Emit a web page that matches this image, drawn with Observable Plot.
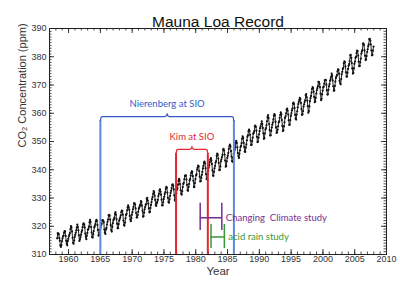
<!DOCTYPE html>
<html><head><meta charset="utf-8">
<script src="https://cdn.jsdelivr.net/npm/d3@7"></script>
<script src="https://cdn.jsdelivr.net/npm/@observablehq/plot@0.6"></script>
<style>body{margin:0;background:#fff}</style>
</head><body><div id="chart"></div>
<script>
// Monthly CO2 (ppm), Mauna Loa, starting March 1958
const startYear = 1958, startMonth = 3;
const co2 = [
315.71,317.45,317.50,317.10,315.86,314.93,313.20,312.66,313.33,314.67,
315.62,316.38,316.71,317.72,318.29,318.15,316.54,314.80,313.84,313.26,314.80,315.58,
316.43,316.97,317.58,319.02,320.03,319.59,318.18,315.91,314.16,313.83,315.00,316.19,
316.93,317.70,318.54,319.48,320.58,319.77,318.57,316.79,314.80,315.38,316.10,317.01,
317.94,318.56,319.68,320.63,321.01,320.55,319.58,317.40,316.26,315.42,316.69,317.69,
318.74,319.08,319.86,321.39,322.25,321.47,319.74,317.77,316.21,315.99,317.12,318.31,
319.57,320.07,320.73,321.77,322.25,321.89,320.44,318.70,316.70,316.79,317.79,318.71,
319.44,320.44,320.89,322.13,322.16,321.87,321.39,318.81,317.81,317.30,318.87,319.42,
320.62,321.59,322.39,323.87,324.01,323.75,322.39,320.37,318.64,318.10,319.79,321.08,
322.07,322.50,323.04,324.42,325.00,324.09,322.55,320.92,319.31,319.31,320.72,321.96,
322.57,323.15,323.89,325.02,325.57,325.36,324.14,322.03,320.41,320.25,321.31,322.84,
324.00,324.42,325.64,326.66,327.38,326.70,325.89,323.67,322.38,321.78,322.85,324.11,
325.03,325.99,326.87,328.13,328.07,327.66,326.35,324.69,323.10,323.16,323.98,325.13,
326.17,326.68,327.18,327.78,328.92,328.57,327.34,325.46,323.36,323.57,324.80,326.01,
326.77,327.63,327.75,329.72,330.07,329.09,328.05,326.32,324.93,325.06,326.50,327.55,
328.54,329.56,330.30,331.50,332.48,332.07,330.87,329.31,327.51,327.18,328.16,328.64,
329.35,330.71,331.48,332.65,333.09,332.25,331.18,329.40,327.43,327.37,328.46,329.57,
330.40,331.40,332.04,333.31,333.96,333.59,331.91,330.06,328.56,328.34,329.49,330.76,
331.75,332.56,333.50,334.58,334.87,334.34,333.05,330.94,329.30,328.94,330.31,331.68,
332.93,333.42,334.70,336.07,336.74,336.27,334.93,332.75,331.58,331.16,332.40,333.85,
334.97,335.39,336.64,337.76,338.01,337.89,336.54,334.68,332.76,332.54,333.92,334.95,
336.23,336.76,337.96,338.89,339.47,339.29,337.73,336.09,333.91,333.86,335.29,336.73,
338.01,338.36,340.08,340.77,341.46,341.17,339.56,337.60,335.88,336.01,337.10,338.21,
339.24,340.48,341.38,342.51,342.91,342.25,340.49,338.43,336.69,336.85,338.36,339.61,
340.75,341.61,342.70,343.56,344.13,343.35,342.06,339.82,337.97,337.86,339.26,340.49,
341.38,342.52,343.10,344.94,345.75,345.32,343.99,342.39,339.86,339.99,341.16,342.99,
343.70,344.51,345.28,347.08,347.43,346.79,345.40,343.28,341.07,341.35,342.98,344.22,
344.97,345.99,347.42,348.35,348.93,348.25,346.56,344.69,343.09,342.80,344.24,345.56,
346.29,346.96,347.86,349.55,350.21,349.54,347.94,345.91,344.86,344.17,345.66,346.90,
348.02,348.47,349.42,350.99,351.84,351.25,349.52,348.10,346.44,346.36,347.81,348.96,
350.43,351.72,352.22,353.59,354.22,353.79,352.39,350.44,348.72,348.88,350.07,351.34,
352.76,353.07,353.68,355.42,355.67,355.13,353.90,351.67,349.80,349.99,351.30,352.53,
353.66,354.70,355.39,356.20,357.16,356.22,354.82,352.91,350.96,351.18,352.83,354.21,
354.72,355.75,357.16,358.60,359.34,358.24,356.17,354.03,352.16,352.21,353.75,354.99,
355.98,356.72,357.81,359.15,359.66,359.25,357.02,355.00,353.01,353.31,354.16,355.40,
356.70,357.16,358.38,359.46,360.28,359.60,357.57,355.52,353.70,353.98,355.33,356.80,
358.36,358.91,359.97,361.26,361.68,360.95,359.55,357.49,355.84,356.00,357.58,359.04,
359.97,361.00,361.64,363.45,363.79,363.26,361.90,359.46,358.06,357.75,359.56,360.70,
362.05,363.25,364.03,364.72,365.41,364.97,363.65,361.49,359.46,359.60,360.76,362.33,
363.18,363.99,364.56,366.36,366.80,365.63,364.47,362.50,360.19,360.78,362.43,364.28,
365.33,366.15,367.31,368.61,369.29,368.87,367.64,365.77,363.90,364.23,365.46,366.97,
368.15,368.87,369.59,371.14,371.00,370.35,369.27,366.94,364.63,365.12,366.67,368.01,
369.14,369.46,370.52,371.66,371.82,371.70,370.12,368.12,366.62,366.73,368.29,369.53,
370.28,371.50,372.12,372.87,374.02,373.30,371.62,369.55,367.96,368.09,369.68,371.24,
372.44,373.08,373.52,374.85,375.55,375.40,374.02,371.49,370.71,370.25,372.08,373.78,
374.68,375.62,376.11,377.65,378.35,378.13,376.62,374.50,372.99,373.00,374.35,375.70,
376.79,377.37,378.41,380.52,380.63,379.57,377.79,375.86,374.06,374.24,375.86,377.48,
378.29,379.62,379.95,381.30,382.16,382.00,380.42,378.28,376.68,376.76,378.01,379.33,
381.14,381.84,382.31,384.64,384.68,384.15,382.24,380.38,378.81,379.08,380.23,381.69,
382.66,383.68,384.38,386.23,386.34,385.67,384.33,382.25,380.52,380.67,382.18,383.61
];

// Axes
const xDomain = [1957, 2010];
const yDomain = [310, 390];
const xTickLabels = [1960, 1965, 1970, 1975, 1980, 1985, 1990, 1995, 2000, 2005, 2010];
const yTickLabels = [310, 320, 330, 340, 350, 360, 370, 380, 390];
const xMinorTicks = d3.range(1958, 2010, 1);
const yMinorTicks = d3.range(311, 390, 1);

const title = "Mauna Loa Record";
const xLabel = "Year";
const yLabel = "CO\u2082 Concentration (ppm)";

// Tenure brackets
const braceLabels = ["Nierenberg at SIO", "Kim at SIO"];
const braceStart = [1965.0, 1976.9];
const braceEnd = [1986.0, 1981.9];
const braceLevel = [358.8, 347.2];
const braceStroke = ["#3559c9", "#e3262d"];
const braceRule = ["#5f88dc", "#e3262d"];

// Study intervals
const studyLabels = ["Changing  Climate study", "acid rain study"];
const studyStart = [1980.7, 1982.4];
const studyEnd = [1984.1, 1984.5];
const studyLevel = [323.0, 316.2];
const studyCapLow = [318.5, 312.1];
const studyCapHigh = [328.1, 320.6];
const studyColor = ["#742f91", "#3a973a"];

// Derived tables
const series = co2.map((v, i) => ({x: startYear + (startMonth - 1 + i + 0.5) / 12, y: v}));
const braces = braceLabels.map((label, i) => ({label, x1: braceStart[i], x2: braceEnd[i], y: braceLevel[i], c: braceStroke[i], r: braceRule[i]}));
const bracePts = braces.flatMap((b, i) => {
  const m = (b.x1 + b.x2) / 2;
  return [
    [b.x1, b.y - 1.4], [b.x1 + 0.12, b.y - 0.15], [b.x1 + 0.35, b.y],
    [m - 0.3, b.y], [m - 0.05, b.y + 0.5], [m, b.y + 1.1], [m + 0.05, b.y + 0.5], [m + 0.3, b.y],
    [b.x2 - 0.35, b.y], [b.x2 - 0.12, b.y - 0.15], [b.x2, b.y - 1.4]
  ].map(([x, y]) => ({x, y, k: i, c: b.c}));
});
const braceVerts = braces.flatMap(b => [{x: b.x1, y1: b.y - 1.4, c: b.r}, {x: b.x2, y1: b.y - 1.4, c: b.r}]);
const studies = studyLabels.map((label, i) => ({label, x1: studyStart[i], x2: studyEnd[i], y: studyLevel[i], lo: studyCapLow[i], hi: studyCapHigh[i], c: studyColor[i]}));
const studyCaps = studies.flatMap(s => [{x: s.x1, lo: s.lo, hi: s.hi, c: s.c}, {x: s.x2, lo: s.lo, hi: s.hi, c: s.c}]);

const W = 400, H = 300, mL = 49, mR = 14, mT = 28, mB = 46;
const fw = W - mL - mR, fh = H - mT - mB;

const chart = Plot.plot({
  width: W, height: H,
  marginLeft: mL, marginRight: mR, marginTop: mT, marginBottom: mB,
  style: {fontFamily: "Liberation Sans, Arial, sans-serif", background: "#fff"},
  x: {domain: xDomain, axis: null},
  y: {domain: yDomain, axis: null},
  marks: [
    // ticks (inward) on all four sides
    Plot.ruleX(xMinorTicks, {x: d => d, insetTop: fh - 2.5, stroke: "#222", strokeWidth: 0.8}),
    Plot.ruleX(xMinorTicks, {x: d => d, insetBottom: fh - 2.5, stroke: "#222", strokeWidth: 0.8}),
    Plot.ruleX(xTickLabels, {x: d => d, insetTop: fh - 5, stroke: "#222", strokeWidth: 0.9}),
    Plot.ruleX(xTickLabels, {x: d => d, insetBottom: fh - 5, stroke: "#222", strokeWidth: 0.9}),
    Plot.ruleY(yMinorTicks, {y: d => d, insetRight: fw - 2.5, stroke: "#222", strokeWidth: 0.8}),
    Plot.ruleY(yMinorTicks, {y: d => d, insetLeft: fw - 2.5, stroke: "#222", strokeWidth: 0.8}),
    Plot.ruleY(yTickLabels, {y: d => d, insetRight: fw - 5, stroke: "#222", strokeWidth: 0.9}),
    Plot.ruleY(yTickLabels, {y: d => d, insetLeft: fw - 5, stroke: "#222", strokeWidth: 0.9}),
    Plot.frame({stroke: "#222", strokeWidth: 1}),
    // tick labels
    Plot.text(xTickLabels, {x: d => d, frameAnchor: "bottom", dy: 7, fontSize: 9, fill: "#333", text: d => String(d)}),
    Plot.text(yTickLabels, {y: d => d, frameAnchor: "left", dx: -3, textAnchor: "end", fontSize: 9, fill: "#333", text: d => String(d)}),
    // data
    Plot.line(series, {x: "x", y: "y", stroke: "#111", strokeWidth: 0.9}),
    Plot.dot(series, {x: "x", y: "y", r: 1.1, fill: "#111", stroke: null}),
    // tenure brackets
    Plot.ruleX(braceVerts, {x: "x", y1: "y1", y2: 310, stroke: "c", strokeWidth: 2}),
    Plot.line(bracePts, {x: "x", y: "y", z: "k", stroke: "c", strokeWidth: 1.2}),
    Plot.text(braces, {x: d => (d.x1 + d.x2) / 2, y: "y", text: "label", fill: "c", dy: -12.5, fontSize: 9.5, fontFamily: "Lato, sans-serif"}),
    // study intervals
    Plot.ruleY(studies, {y: "y", x1: "x1", x2: "x2", stroke: "c", strokeWidth: 1.5}),
    Plot.ruleX(studyCaps, {x: "x", y1: "lo", y2: "hi", stroke: "c", strokeWidth: 1.5}),
    Plot.text(studies, {x: "x2", y: "y", text: "label", fill: "c", textAnchor: "start", dx: 4, fontSize: 9.5, fontFamily: "Lato, sans-serif"}),
    // titles
    Plot.text([title], {frameAnchor: "top", dy: -12.5, fontSize: 15.5, fill: "#111"}),
    Plot.text([xLabel], {frameAnchor: "bottom", dy: 20, fontSize: 11.5, fill: "#333"}),
    Plot.text([yLabel], {frameAnchor: "left", rotate: -90, dx: -27, dy: 6, fontSize: 11, fill: "#333"})
  ]
});
document.getElementById("chart").append(chart);
</script>
</body></html>
